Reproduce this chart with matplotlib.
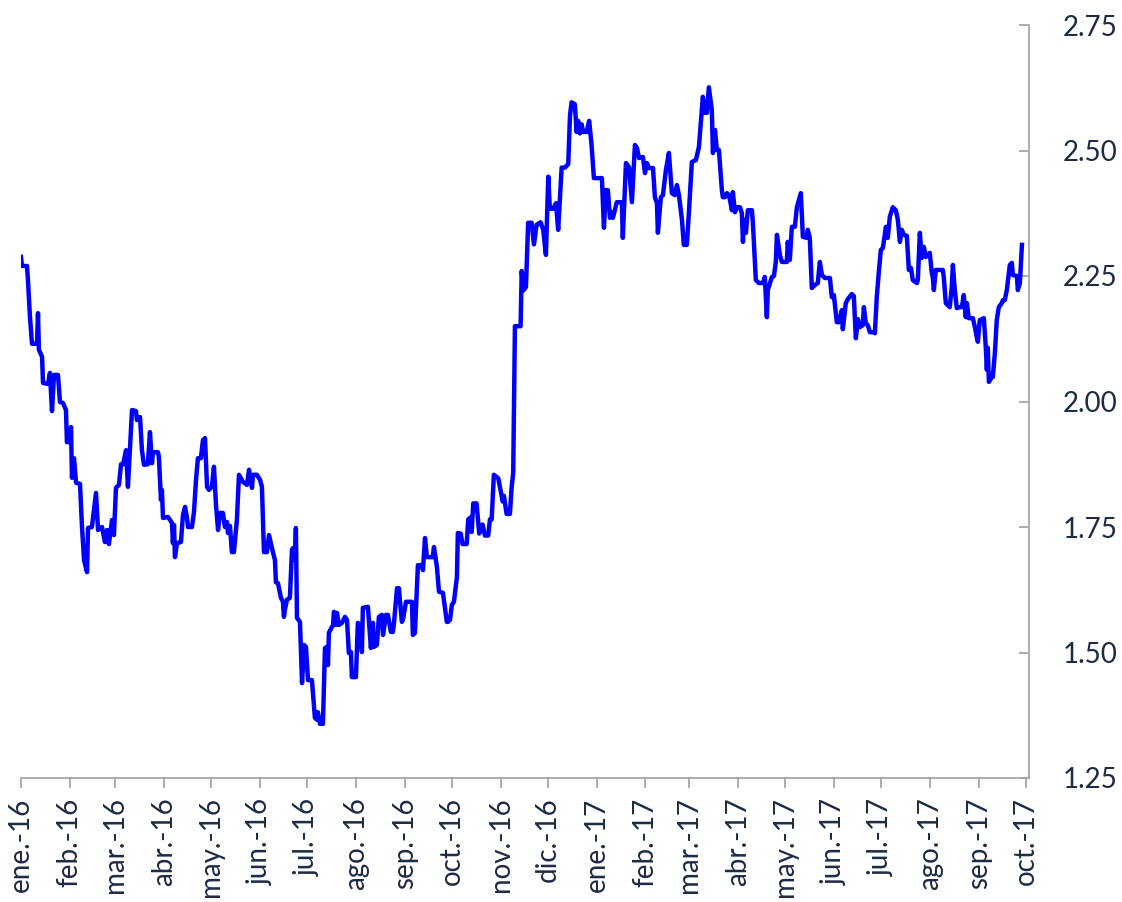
import matplotlib
matplotlib.use("Agg")
import matplotlib.pyplot as plt
import pandas as pd
import numpy as np

# Days elapsed since 2016-01-01 and the series value at that date
day_offsets = [
    0.0, 0.6, 3.8, 4.5, 5.7, 7.0, 10.2, 10.8, 11.4, 13.4, 14.0, 17.2, 18.4, 19.7, 21.0, 23.5, 24.8, 26.7, 28.6, 29.2,
    30.5, 31.8, 32.4, 33.7, 35.0, 37.5, 38.8, 40.1, 42.0, 42.6, 45.1, 47.7, 49.0, 51.5, 53.4, 54.7, 55.9, 57.9, 59.1, 60.4,
    62.3, 63.6, 64.9, 66.8, 68.0, 70.6, 73.1, 73.7, 75.7, 76.9, 78.2, 80.7, 82.0, 83.3, 83.9, 87.1, 87.7, 89.0, 89.6, 90.3,
    93.5, 96.0, 96.6, 97.3, 97.9, 99.2, 101.7, 103.0, 104.3, 105.5, 106.2, 108.7, 110.0, 111.3, 112.5, 114.4, 115.7, 117.0, 118.3, 119.5,
    121.4, 122.7, 124.0, 125.3, 126.5, 128.4, 129.7, 131.0, 131.6, 132.9, 134.1, 135.4, 137.3, 138.6, 141.1, 143.7, 145.0, 146.9, 147.5, 150.0,
    152.0, 153.2, 154.5, 156.4, 157.7, 160.2, 161.5, 162.1, 163.4, 165.3, 166.6, 167.2, 167.8, 169.1, 171.0, 172.3, 172.9, 174.2, 174.8, 175.5,
    177.4, 178.7, 180.0, 181.2, 182.5, 185.0, 186.9, 188.2, 188.8, 190.1, 192.0, 193.3, 194.5, 195.2, 195.8, 197.7, 198.4, 199.0, 200.3, 200.9,
    202.2, 204.1, 206.0, 207.3, 208.5, 209.8, 210.4, 213.0, 214.2, 215.5, 216.8, 217.4, 220.6, 222.5, 223.8, 224.4, 226.3, 227.6, 229.5, 230.2,
    232.1, 233.3, 235.2, 236.5, 237.2, 239.1, 240.3, 242.2, 242.9, 244.8, 248.6, 249.2, 250.5, 252.4, 254.9, 255.6, 256.9, 258.1, 261.9, 262.6,
    264.5, 265.8, 268.3, 270.8, 271.5, 272.8, 274.0, 275.3, 277.2, 277.8,
    279.6, 280.8, 283.4, 284.4, 285.9, 286.6, 287.6, 289.7, 291.4, 293.5, 295.0, 297.1, 298.2, 299.3, 300.7, 303.5, 305.0, 306.3, 307.1, 308.8,
    310.9, 312.0, 313.0, 314.1, 317.7, 318.4, 319.4, 321.1, 322.5, 324.7, 326.2, 327.9, 330.4, 332.1, 333.8, 335.3, 336.3, 338.4, 340.2, 341.6,
    343.8, 345.9, 348.0, 349.1, 350.1, 352.2, 353.3, 354.3, 355.4, 356.5, 357.5, 359.7, 361.3, 362.8, 364.3, 368.1,
    369.4, 370.7, 371.9, 373.2, 374.5, 375.8, 376.4, 378.9, 382.1, 382.7, 384.7, 386.6, 388.5, 390.4, 391.7, 393.0, 395.5, 396.8, 398.0, 399.3,
    401.9, 403.1, 404.4, 405.0, 406.9, 408.2, 410.1, 412.0, 413.9, 415.8, 417.1, 418.4, 420.3, 421.5, 423.4, 424.7, 426.6, 429.2, 431.1, 433.6,
    434.9, 436.2, 437.4, 439.3, 440.0, 441.3, 442.5, 443.8, 445.7, 446.3, 447.6, 448.9, 450.2, 452.1, 452.7, 454.0, 455.3, 457.2, 458.4, 459.1,
    459.7, 461.0, 462.2, 464.8, 465.4, 467.3, 469.2, 471.8, 473.0, 474.3, 474.9, 477.5, 478.8, 480.0, 480.7, 482.6, 483.8, 487.0, 487.6, 488.9,
    490.2, 492.1, 493.4, 495.9, 497.2, 499.7, 500.3, 501.6, 502.9, 504.8, 506.7, 508.0, 509.3, 511.2, 514.4, 515.6, 516.9, 518.8, 520.1, 522.0,
    522.6, 524.5, 525.8, 528.3, 529.6, 530.9, 532.2, 533.4, 535.3, 536.0, 537.2, 538.5, 539.8, 541.7, 543.0, 544.2, 545.5, 546.8, 548.1, 550.0,
    551.2, 552.5,
    554.4, 556.3, 557.6, 558.9, 560.1, 561.4, 563.3, 564.6, 565.9, 567.1, 569.7, 570.3, 571.6, 572.8, 574.1, 575.4, 576.7, 577.9, 579.2, 579.8,
    580.5, 581.7, 583.0, 586.2, 586.8, 588.1, 590.6, 591.9, 592.6, 593.8, 595.1, 597.0, 598.3, 599.5, 600.8, 601.5, 602.7, 605.3, 606.6, 607.8,
    608.5, 609.7, 612.3, 613.5, 614.2, 614.8, 615.5, 617.4, 618.0, 619.3, 620.5, 621.8, 623.7, 624.4, 625.6, 626.9, 628.8, 630.1, 630.7, 633.3,
    633.9, 635.2, 636.5,
]

values = [
    2.288, 2.270, 2.270, 2.238, 2.168, 2.115, 2.115, 2.176, 2.103, 2.089, 2.037, 2.035, 2.057, 1.981, 2.053, 2.053, 1.999, 1.997, 1.983, 1.919,
    1.919, 1.949, 1.848, 1.887, 1.838, 1.836, 1.750, 1.684, 1.660, 1.748, 1.750, 1.818, 1.744, 1.750, 1.720, 1.744, 1.716, 1.764, 1.734, 1.828,
    1.834, 1.875, 1.875, 1.903, 1.830, 1.983, 1.981, 1.963, 1.969, 1.903, 1.874, 1.875, 1.939, 1.877, 1.899, 1.899, 1.889, 1.804, 1.824, 1.768,
    1.770, 1.758, 1.718, 1.754, 1.690, 1.718, 1.720, 1.774, 1.790, 1.770, 1.750, 1.750, 1.780, 1.844, 1.887, 1.887, 1.923, 1.927, 1.830, 1.824,
    1.830, 1.870, 1.794, 1.744, 1.778, 1.778, 1.750, 1.760, 1.738, 1.752, 1.700, 1.700, 1.764, 1.854, 1.840, 1.834, 1.864, 1.828, 1.854, 1.854,
    1.844, 1.830, 1.700, 1.700, 1.734, 1.700, 1.684, 1.640, 1.638, 1.609, 1.601, 1.571, 1.585, 1.605, 1.609, 1.704, 1.708, 1.684, 1.748, 1.569,
    1.561, 1.439, 1.515, 1.511, 1.445, 1.445, 1.370, 1.366, 1.381, 1.358, 1.358, 1.509, 1.511, 1.475, 1.539, 1.551, 1.553, 1.581, 1.555, 1.579,
    1.555, 1.559, 1.571, 1.565, 1.499, 1.501, 1.451, 1.451, 1.559, 1.555, 1.501, 1.589, 1.591, 1.509, 1.559, 1.511, 1.515, 1.571, 1.575, 1.535,
    1.575, 1.575, 1.541, 1.541, 1.559, 1.628, 1.628, 1.561, 1.565, 1.601, 1.601, 1.535, 1.539, 1.674, 1.674, 1.664, 1.728, 1.690, 1.690, 1.710,
    1.670, 1.621, 1.619, 1.561, 1.561, 1.565, 1.595, 1.601, 1.650, 1.738,
    1.737, 1.716, 1.716, 1.765, 1.769, 1.740, 1.797, 1.797, 1.737, 1.755, 1.733, 1.733, 1.765, 1.765, 1.854, 1.847, 1.822, 1.801, 1.812, 1.776,
    1.776, 1.829, 1.858, 2.150, 2.150, 2.260, 2.221, 2.228, 2.356, 2.356, 2.313, 2.352, 2.357, 2.342, 2.292, 2.448, 2.384, 2.384, 2.395, 2.342,
    2.466, 2.466, 2.473, 2.569, 2.596, 2.592, 2.537, 2.559, 2.534, 2.552, 2.537, 2.537, 2.559, 2.512, 2.445, 2.445,
    2.445, 2.346, 2.421, 2.421, 2.366, 2.377, 2.366, 2.397, 2.397, 2.326, 2.475, 2.467, 2.397, 2.511, 2.505, 2.485, 2.487, 2.455, 2.475, 2.465,
    2.465, 2.407, 2.395, 2.336, 2.407, 2.411, 2.461, 2.495, 2.415, 2.411, 2.431, 2.411, 2.362, 2.312, 2.312, 2.375, 2.477, 2.481, 2.507, 2.607,
    2.575, 2.575, 2.626, 2.581, 2.495, 2.541, 2.501, 2.501, 2.421, 2.407, 2.407, 2.415, 2.411, 2.381, 2.417, 2.377, 2.387, 2.387, 2.375, 2.318,
    2.362, 2.336, 2.381, 2.381, 2.356, 2.242, 2.236, 2.236, 2.248, 2.168, 2.222, 2.248, 2.250, 2.278, 2.332, 2.292, 2.278, 2.278, 2.318, 2.282,
    2.348, 2.348, 2.387, 2.415, 2.328, 2.326, 2.342, 2.326, 2.226, 2.232, 2.236, 2.278, 2.252, 2.246, 2.246, 2.208, 2.212, 2.158, 2.158, 2.182,
    2.144, 2.196, 2.204, 2.214, 2.210, 2.126, 2.164, 2.148, 2.152, 2.188, 2.156, 2.152, 2.138, 2.138, 2.136, 2.208, 2.258, 2.302, 2.306, 2.348,
    2.326, 2.368,
    2.387, 2.381, 2.362, 2.318, 2.342, 2.332, 2.330, 2.262, 2.266, 2.242, 2.236, 2.242, 2.336, 2.286, 2.308, 2.288, 2.292, 2.296, 2.256, 2.248,
    2.222, 2.262, 2.262, 2.262, 2.248, 2.196, 2.188, 2.228, 2.272, 2.222, 2.186, 2.188, 2.188, 2.212, 2.168, 2.196, 2.166, 2.166, 2.148, 2.128,
    2.119, 2.162, 2.166, 2.109, 2.063, 2.107, 2.039, 2.049, 2.049, 2.097, 2.162, 2.188, 2.196, 2.202, 2.202, 2.222, 2.272, 2.276, 2.252, 2.250,
    2.222, 2.236, 2.312,
]

month_labels = ["ene.-16", "feb.-16", "mar.-16", "abr.-16", "may.-16", "jun.-16", "jul.-16", "ago.-16",
                "sep.-16", "oct.-16", "nov.-16", "dic.-16", "ene.-17", "feb.-17", "mar.-17", "abr.-17",
                "may.-17", "jun.-17", "jul.-17", "ago.-17", "sep.-17", "oct.-17"]
y_ticks = [1.25, 1.50, 1.75, 2.00, 2.25, 2.50, 2.75]

start = pd.Timestamp("2016-01-01")
dates = start + pd.to_timedelta(np.array(day_offsets), unit="D")
month_ticks = pd.date_range("2016-01-01", "2017-10-01", freq="MS")

text_color = "#1F2A44"
axis_color = "#A6A6A6"

plt.rcParams["font.family"] = ["Lato", "DejaVu Sans"]

fig = plt.figure(figsize=(11.22, 9.02), dpi=100)
ax = fig.add_axes([21 / 1122, 1 - 778 / 902, (1029 - 21) / 1122, (778 - 25) / 902])

ax.plot(dates, values, color="#0000FF", lw=3.2, solid_joinstyle="round")

ax.set_xlim(start, pd.Timestamp("2017-10-03"))
ax.set_ylim(1.25, 2.75)

ax.set_xticks(month_ticks)
ax.set_xticklabels(month_labels, rotation=90, fontsize=20, color=text_color)
ax.tick_params(axis="x", direction="out", length=7, width=1.3, color=axis_color, pad=7)

ax.yaxis.tick_right()
ax.set_yticks(y_ticks)
ax.set_yticklabels([f"{v:.2f}" for v in y_ticks], fontsize=20, color=text_color)
ax.tick_params(axis="y", which="both", direction="in", length=7, width=1.3, color=axis_color, pad=24,
               left=False, right=True)

for side in ["top", "left"]:
    ax.spines[side].set_visible(False)
for side in ["bottom", "right"]:
    ax.spines[side].set_color(axis_color)
    ax.spines[side].set_linewidth(1.3)

fig.savefig("out.png", dpi=100)
